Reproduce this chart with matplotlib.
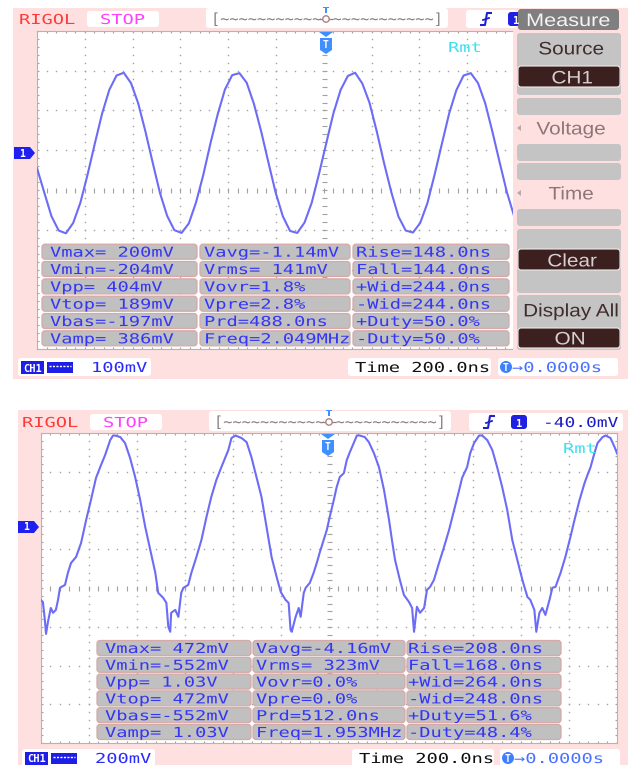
import numpy as np
import matplotlib
matplotlib.use('Agg')
import matplotlib.pyplot as plt
from matplotlib.patches import Rectangle, FancyBboxPatch, Polygon, Circle
from matplotlib.patheffects import AbstractPathEffect
from matplotlib.transforms import Affine2D

# ---------------- data ----------------
NS_PER_DIV = 200
TOP_MV_PER_DIV = 100
BOT_MV_PER_DIV = 200
TOP_CENTER_MV = -95      # screen centre (ground marker ~1 div above centre)
BOT_CENTER_MV = -315     # screen centre (ground marker ~1.57 div above centre)

# top trace: scope samples every 30.25 ns starting at -1200 ns (mV)
top_t_start_ns = -1200
top_dt_ns = 30.25
top_trace_mv = [-40, -101, -161, -197, -204, -178, -127, -56, 22, 97, 157, 193, 200, 174, 123, 52,
                -26, -102, -160, -196, -203, -179, -126, -57, 23, 96, 158, 194, 199, 175, 122, 53,
                -25, -101, -161, -198, -203, -177, -127, -55, 22, 98, 157, 192, 200, 173, 124, 52,
                -27, -100, -162, -197, -202, -178, -128, -56, 21, 97, 156, 193, 199, 174, 123, 51,
                -26, -101, -161]

# bottom trace: points (ns, mV)
bot_trace_t_ns = [-1200, -1190, -1182, -1177, -1169, -1157, -1148, -1136, -1127, -1119, -1098, -1086, -1073,
                  -1052, -1031, -1010, -990, -969, -948, -931, -910, -898, -889,
                  -868, -848, -827, -806, -785, -764, -743, -722, -710, -689, -676, -668, -660, -656, -639,
                  -626, -614, -605, -585, -572, -551, -530, -509, -489, -468, -447, -418, -405, -388,
                  -363, -342, -322, -301, -280, -259, -238, -217, -200, -180, -167, -159, -154, -138, -125,
                  -117, -104, -96, -79, -63, -50, -38, -21, -8, 4, 21, 33, 46, 63, 75, 88, 104, 117, 129,
                  150, 167, 188, 209, 230, 251, 263, 276, 296, 313, 334, 347, 355, 367, 380, 397, 409, 422,
                  438, 459, 480, 501, 522, 543, 555, 576, 589, 605, 626, 639,
                  660, 681, 701, 722, 743, 764, 785, 806, 827, 839, 856, 864, 877, 889, 902, 919, 931, 944,
                  965, 985, 1006, 1023, 1044, 1065, 1077, 1090, 1106, 1119, 1140, 1152, 1173, 1190, 1200]
bot_trace_mv = [-376, -387, -479, -552, -490, -418, -443, -428, -376, -314, -299, -237, -186,
                -155, -82, 36, 139, 253, 320, 371, 448, 472, 472,
                464, 433, 356, 258, 139, 0, -119, -237, -340, -366, -392, -515, -541, -443, -428,
                -464, -340, -314, -299, -237, -155, -67, 52, 155, 242, 309, 397, 459, 472,
                459, 438, 361, 258, 155, 0, -155, -258, -335, -376, -392, -531, -541, -464, -418,
                -464, -340, -314, -289, -237, -186, -134, -67, -15, 52, 139, 206, 258, 278, 345, 387, 433, 472, 472,
                464, 438, 381, 309, 191, 36, -67, -170, -273, -351, -387, -418, -541, -412, -443, -418, -325, -309,
                -273, -186, -103, -15, 88, 191, 253, 309, 381, 433, 472, 472,
                448, 397, 309, 206, 88, -67, -170, -273, -361, -376, -428, -541, -443, -418, -454, -376, -314, -309,
                -237, -155, -52, 36, 139, 227, 268, 309, 381, 433, 464, 472, 459, 412, 380]

top_rows = [["Vmax= 200mV", "Vavg=-1.14mV", "Rise=148.0ns"],
            ["Vmin=-204mV", "Vrms= 141mV", "Fall=144.0ns"],
            ["Vpp= 404mV", "Vovr=1.8%", "+Wid=244.0ns"],
            ["Vtop= 189mV", "Vpre=2.8%", "-Wid=244.0ns"],
            ["Vbas=-197mV", "Prd=488.0ns", "+Duty=50.0%"],
            ["Vamp= 386mV", "Freq=2.049MHz", "-Duty=50.0%"]]
bot_rows = [["Vmax= 472mV", "Vavg=-4.16mV", "Rise=208.0ns"],
            ["Vmin=-552mV", "Vrms= 323mV", "Fall=168.0ns"],
            ["Vpp= 1.03V", "Vovr=0.0%", "+Wid=264.0ns"],
            ["Vtop= 472mV", "Vpre=0.0%", "-Wid=248.0ns"],
            ["Vbas=-552mV", "Prd=512.0ns", "+Duty=51.6%"],
            ["Vamp= 1.03V", "Freq=1.953MHz", "-Duty=48.4%"]]
top_scale_label = "100mV"
bot_scale_label = "200mV"
timebase_label = "Time 200.0ns"
offset_label = "\u21920.0000s"
trig_level_label = "-40.0mV"
menu_title = "Measure"
menu_labels = ["Source", "CH1", "Voltage", "Time", "Clear", "Display All", "ON"]

# ---------------- styling ----------------
W, H = 628, 765
PINK = '#ffe0e0'
GRID = '#a2a2a2'
TRACE = '#6c6cf6'
TBLUE = '#3535f5'
MONO = 'DejaVu Sans Mono'
SANS = 'Liberation Sans'


class HStretch(AbstractPathEffect):
    """Draw the text glyphs stretched horizontally (scope font is wide)."""
    def __init__(self, sx, anchor='left'):
        super().__init__()
        self.sx = sx
        self.anchor = anchor

    def draw_path(self, renderer, gc, tpath, affine, rgbFace=None):
        c = 0.0
        if len(tpath.vertices):
            v = tpath.vertices[:, 0]
            if self.anchor == 'center':
                c = (v.min() + v.max()) / 2.0
            elif self.anchor == 'right':
                c = v.max()
        t = Affine2D().translate(-c, 0).scale(self.sx, 1.0).translate(c, 0) + affine
        renderer.draw_path(gc, tpath, t, rgbFace)


fig = plt.figure(figsize=(W / 100, H / 100), dpi=100)
fig.patch.set_facecolor('white')


def px_axes(L, T, R, B, z):
    return fig.add_axes([L / W, 1 - B / H, (R - L) / W, (B - T) / H], zorder=z)


bg = px_axes(0, 0, W, H, 0)
bg.set_xlim(0, W); bg.set_ylim(H, 0); bg.axis('off')
bg.add_patch(Rectangle((13, 8), W - 13, 371, fc=PINK, ec='none'))
bg.add_patch(Rectangle((18, 410), W - 18, H - 410, fc=PINK, ec='none'))


def scope(L, T, R, B, center, mvdiv, t, v):
    ax = px_axes(L, T, R, B, 1)
    lo, hi = center - 4 * mvdiv, center + 4 * mvdiv
    x0, x1 = -6 * NS_PER_DIV, 6 * NS_PER_DIV
    ax.set_xlim(x0, x1); ax.set_ylim(lo, hi)
    ax.set_facecolor('white')
    ax.set_xticks([]); ax.set_yticks([])
    for s in ax.spines.values():
        s.set_color('#b4b4b4'); s.set_linewidth(0.8)
    xm = np.arange(-30, 31) * NS_PER_DIV / 5
    ym = center + np.arange(-20, 21) * mvdiv / 5
    dot = dict(ls='none', marker='s', ms=1.0, mew=0, color=GRID)
    for k in (-3, -2, -1, 1, 2, 3):
        ax.plot(xm, np.full(xm.size, center + k * mvdiv), **dot)
    for j in range(-5, 6):
        if j:
            ax.plot(np.full(ym.size, j * NS_PER_DIV), ym, **dot)
    ax.plot(xm, np.full(xm.size, center), ls='none', marker='|', ms=3.6, mew=0.8, color=GRID)
    ax.plot(np.zeros(ym.size), ym, ls='none', marker='_', ms=3.6, mew=0.8, color=GRID)
    ax.plot(xm, np.full(xm.size, hi), ls='none', marker='|', ms=3.0, mew=0.8, color=GRID)
    ax.plot(xm, np.full(xm.size, lo), ls='none', marker='|', ms=3.0, mew=0.8, color=GRID)
    ax.plot(np.full(ym.size, x0), ym, ls='none', marker='_', ms=3.0, mew=0.8, color=GRID)
    ax.plot(np.full(ym.size, x1), ym, ls='none', marker='_', ms=3.0, mew=0.8, color=GRID)
    ax.plot(t, v, color=TRACE, lw=1.5, solid_joinstyle='round', zorder=5)
    return ax


top_t = top_t_start_ns + top_dt_ns * np.arange(len(top_trace_mv))
scope(37, 31, 610.6, 349, TOP_CENTER_MV, TOP_MV_PER_DIV, top_t, top_trace_mv)
scope(40.5, 433, 617, 743, BOT_CENTER_MV, BOT_MV_PER_DIV, bot_trace_t_ns, bot_trace_mv)

ov = px_axes(0, 0, W, H, 3)
ov.set_xlim(0, W); ov.set_ylim(H, 0); ov.axis('off')
ov.patch.set_alpha(0)


def rbox(x0, y0, x1, y1, fc, ec='none', r=3, lw=0.8, z=2):
    ov.add_patch(FancyBboxPatch((x0, y0), x1 - x0, y1 - y0,
                                boxstyle=f"round,pad=0,rounding_size={r}",
                                fc=fc, ec=ec, lw=lw, zorder=z))


def mtext(x, y, s, color, size=9.9, sx=1.36, ha='left', weight='normal', family=MONO, z=6):
    ov.text(x, y, s, color=color, fontsize=size, family=family, ha=ha, va='baseline',
            fontweight=weight, path_effects=[HStretch(sx, ha)], zorder=z)


def header(dy, dx, trig_x1, trig_label):
    mtext(19 + dx, 24 + dy, "RIGOL", '#ff3a3a')
    rbox(87 + dx, 11 + dy, 159 + dx, 27 + dy, 'white')
    mtext(100 + dx, 24 + dy, "STOP", '#ff40ff')
    # memory overview
    rbox(206 + dx, 8 + dy, 448 + dx, 28 + dy, 'white')
    mtext(211 + dx, 24 + dy, "[" + "~" * 11, '#8c8080', size=11, sx=1.0)
    mtext(442 + dx, 24 + dy, "~" * 11 + "]", '#8c8080', size=11, sx=1.0, ha='right')
    ov.plot([320 + dx, 332 + dx], [19 + dy, 19 + dy], color='#8c8080', lw=0.9, zorder=6)
    ov.add_patch(Circle((326 + dx, 19 + dy), 3.2, fc='white', ec='#b08080', lw=1.0, zorder=7))
    mtext(326 + dx, 13 + dy, "T", '#3f8fff', size=6, sx=1.2, ha='center', weight='bold')
    # trigger box
    rbox(466 + dx, 10 + dy, trig_x1, 28 + dy, 'white')
    ov.plot([480 + dx, 485 + dx, 487 + dx, 492 + dx], [25 + dy, 25 + dy, 13 + dy, 13 + dy],
            color='#2020d0', lw=1.5, zorder=7, solid_capstyle='butt')
    ov.plot([483 + dx, 489 + dx], [20 + dy, 18 + dy], color='#2020d0', lw=1.3, zorder=7)
    rbox(508 + dx, 12 + dy, 524 + dx, 26 + dy, '#2020e0', r=3, z=3)
    ov.text(516 + dx, 23.5 + dy, "1", color='white', fontsize=7.5, family=MONO,
            fontweight='bold', ha='center', va='baseline', zorder=6)
    if trig_label:
        mtext(540 + dx, 24 + dy, trig_label, '#1c1cc0', sx=1.3)


def pin(dx, dy):
    ov.add_patch(Polygon([(319 + dx, 32 + dy), (333 + dx, 32 + dy), (326 + dx, 37 + dy)],
                         closed=True, fc='#3f8fff', ec='none', zorder=5))
    ov.add_patch(Polygon([(320 + dx, 38 + dy), (332 + dx, 38 + dy), (332 + dx, 50 + dy),
                          (326 + dx, 54 + dy), (320 + dx, 50 + dy)],
                         closed=True, fc='#3f8fff', ec='none', zorder=5))
    ov.text(326 + dx, 48 + dy, "T", color='white', fontsize=7, family=MONO, fontweight='bold',
            ha='center', va='baseline', zorder=6)


def ground_marker(x, y):
    ov.add_patch(Polygon([(x, y - 6), (x + 16, y - 6), (x + 21, y), (x + 16, y + 6), (x, y + 6)],
                         closed=True, fc='#2020ee', ec='none', zorder=5))
    ov.text(x + 8, y + 3.5, "1", color='white', fontsize=7, family=MONO, fontweight='bold',
            ha='center', va='baseline', zorder=6)


def table(rows, y_centers, cells, text_x):
    for yc, row in zip(y_centers, rows):
        for (cx0, cx1), tx, s in zip(cells, text_x, row):
            rbox(cx0, yc - 7.5, cx1, yc + 7.5, '#c0c0c0', ec='#d6a8a8', r=3, lw=0.9)
            mtext(tx, yc + 5, s, TBLUE)


def footer(dx, dy, scale_label, ch_x1, time_x0, time_x1, off_x0):
    rbox(18 + dx, 358 + dy, ch_x1, 376 + dy, 'white')
    ov.add_patch(Rectangle((21 + dx, 361 + dy), 23, 13, fc='#1e1ee6', ec='none', zorder=4))
    ov.text(32.5 + dx, 371.5 + dy, "CH1", color='white', fontsize=7.5, family=MONO,
            fontweight='bold', ha='center', va='baseline', zorder=6)
    ov.add_patch(Rectangle((47 + dx, 362 + dy), 26, 11, fc='#1e1ee6', ec='none', zorder=4))
    ov.plot([49 + dx, 71 + dx], [365.5 + dy, 365.5 + dy], color='white', lw=1.0,
            ls=(0, (1.5, 1.0)), zorder=5)
    mtext(91 + dx, 372 + dy, scale_label, '#2a2aff')
    rbox(time_x0, 358 + dy, time_x1, 376 + dy, 'white')
    mtext(time_x0 + 7, 372 + dy, timebase_label, '#101010')
    rbox(off_x0, 358 + dy, off_x0 + 120, 376 + dy, 'white')
    ov.add_patch(Circle((off_x0 + 8, 367 + dy), 6, fc='#3f7fff', ec='none', zorder=4))
    ov.text(off_x0 + 8, 370.5 + dy, "T", color='white', fontsize=7, family=MONO,
            fontweight='bold', ha='center', va='baseline', zorder=6)
    mtext(off_x0 + 14, 372 + dy, offset_label, '#4a70ff')


# ---------------- top screen ----------------
header(0, 0, 517, None)
pin(0, 0)
ground_marker(14, 153)
mtext(448, 52, "Rmt", '#3ee0f0')
table(top_rows, [251.7, 269.0, 286.4, 303.7, 321.0, 338.3],
      [(42, 197), (200, 350), (353, 509)], [50, 204, 356])
footer(0, 0, top_scale_label, 151, 348, 491, 498)

# right-hand menu
ov.add_patch(Rectangle((513, 30), W - 513, 322, fc=PINK, ec='none', zorder=1.5))
rbox(518, 9, 619, 30, '#7f7f7f', z=3)
mtext(568, 26, menu_title, '#f4f4f4', size=13, sx=1.2, ha='center', family=SANS)
GRAYB = '#c4c4c4'
DARKB = '#3c1f1f'
rbox(517, 33, 621, 95, GRAYB)
rbox(518, 66, 620, 87, DARKB, ec='#f0eaea', lw=0.8, z=3)
rbox(517, 98, 621, 115, GRAYB)
rbox(517, 144, 621, 161, GRAYB)
rbox(517, 163, 621, 180, GRAYB)
rbox(517, 209, 621, 226, GRAYB)
rbox(517, 229, 621, 293, GRAYB)
rbox(518, 249, 620, 270, DARKB, ec='#f0eaea', lw=0.8, z=3)
rbox(517, 295, 621, 350, GRAYB)
rbox(518, 328, 620, 348, DARKB, ec='#f0eaea', lw=0.8, z=3)
for yc in (128, 193):
    ov.add_patch(Polygon([(521, yc - 3), (521, yc + 3), (517, yc)], closed=True,
                         fc='#b8a8a8', ec='none', zorder=4))
menu_pos = [(571, 48, '#402c2c'), (572, 77, '#d8d0d0'), (571, 128, '#8e7676'),
            (571, 193, '#8e7676'), (572, 260, '#d8d0d0'), (571, 310, '#402c2c'),
            (570, 338, '#d8d0d0')]
for lab, (mx, my, mc) in zip(menu_labels, menu_pos):
    mtext(mx, my + 6.4, lab, mc, size=13, sx=1.15, ha='center', family=SANS)

# ---------------- bottom screen ----------------
header(403, 3, 623, trig_level_label)
pin(2, 402)
ground_marker(18, 527)
mtext(563, 453, "Rmt", '#3ee0f0')
table(bot_rows, [648.0, 664.8, 681.6, 698.4, 715.2, 732.0],
      [(97, 251), (253, 405), (407, 561)], [105, 256, 408])
footer(4, 391, bot_scale_label, 155, 352, 494, 500)

fig.savefig('out.png', dpi=100, facecolor='white')
